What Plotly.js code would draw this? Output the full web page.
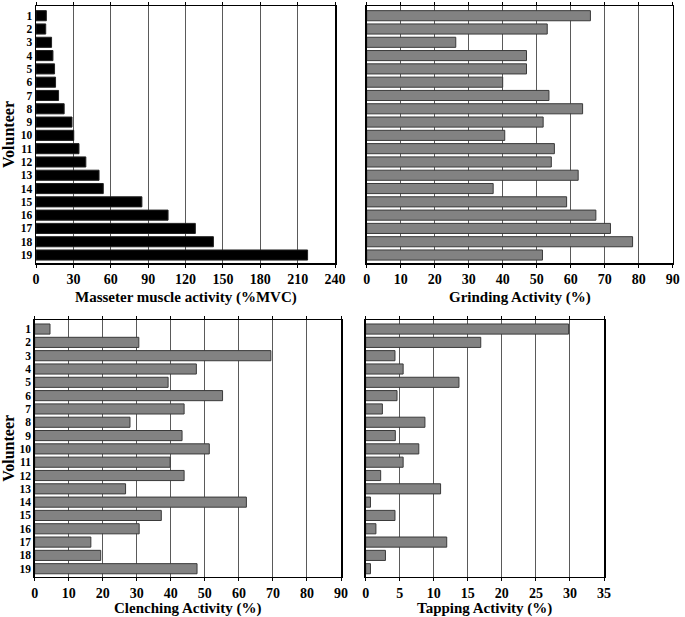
<!DOCTYPE html>
<html>
<head>
<meta charset="utf-8">
<script src="https://cdn.plot.ly/plotly-3.0.1.min.js"></script>
<style>html,body{margin:0;padding:0;background:#fff;}#chart{width:685px;height:617px;}</style>
</head>
<body>
<div id="chart"></div>
<script>
const volunteers = [1,2,3,4,5,6,7,8,9,10,11,12,13,14,15,16,17,18,19];
const volunteerLabels = volunteers.map(String);
const masseter = [8.3,7.8,12.5,13.6,14.9,15.7,18.1,22.6,28.9,30.3,34.5,40,50.6,54,85,106,127.9,142.4,218];
const grinding = [65.8,53.1,26.2,47,47,40,53.6,63.5,51.9,40.6,55.2,54.3,62.2,37.2,58.8,67.4,71.7,78.2,51.7];
const clenching = [4.5,30.6,69.4,47.5,39.2,55.2,43.9,28,43.3,51.3,39.8,43.9,26.7,62.2,37.2,30.7,16.5,19.4,47.7];
const tapping = [29.8,16.9,4.3,5.5,13.7,4.6,2.45,8.7,4.35,7.8,5.5,2.2,11,0.7,4.3,1.5,11.9,2.9,0.7];
const xTitles = ['Masseter muscle activity (%MVC)', 'Grinding Activity (%)', 'Clenching Activity (%)', 'Tapping Activity (%)'];

const W = 685, H = 617;
const FONT = "Liberation Serif, Times New Roman, serif";
const tickFont = {family: FONT, size: 14, color: '#000', weight: 'bold'};
const titleFont = {family: FONT, size: 15, color: '#000', weight: 'bold'};

function bar(x, xa, ya, color, line) {
  return {type: 'bar', orientation: 'h', x: x, y: volunteers, xaxis: xa, yaxis: ya,
    width: 0.76, marker: {color: color, line: line}, hoverinfo: 'x+y', showlegend: false};
}
const grayLine = {color: '#3a3a3a', width: 1};
const data = [
  bar(masseter, 'x', 'y', '#000', {color: '#222', width: 1}),
  bar(grinding, 'x2', 'y2', '#828282', grayLine),
  bar(clenching, 'x3', 'y3', '#828282', grayLine),
  bar(tapping, 'x4', 'y4', '#828282', grayLine)
];

function xa(dom, range, dtick) {
  return {domain: [dom[0]/W, dom[1]/W], range: range, dtick: dtick, tick0: 0,
    showgrid: true, gridcolor: '#5a5a5a', gridwidth: 1, zeroline: false,
    showline: true, linecolor: '#000', linewidth: 1.5, mirror: 'ticks',
    ticks: 'outside', ticklen: 3, tickcolor: '#000', tickwidth: 1,
    tickfont: tickFont, fixedrange: true};
}
function ya(dom, range, showLabels, title) {
  return {domain: [1 - dom[1]/H, 1 - dom[0]/H], range: range,
    tickvals: volunteers, ticktext: volunteerLabels, showticklabels: showLabels,
    showgrid: false, zeroline: false, showline: true, linecolor: '#000', linewidth: 1.5, mirror: true,
    ticks: '', tickfont: {family: FONT, size: 11.5, color: '#000', weight: 'bold'}, fixedrange: true,
    title: {text: title, font: {family: FONT, size: 16, color: '#000', weight: 'bold'}, standoff: 2}};
}

const P = [
  {x: [36, 335], y: [6, 263], ty: 297},
  {x: [366.7, 672.7], y: [6, 263], ty: 297},
  {x: [34.7, 341], y: [320, 576.7], ty: 608.5},
  {x: [365.7, 604], y: [320, 576.7], ty: 608.5}
];

const annotations = P.map((p, i) => ({
  xref: 'paper', yref: 'paper', x: (p.x[0] + p.x[1]) / 2 / W, y: 1 - p.ty / H,
  xanchor: 'center', yanchor: 'middle', showarrow: false, text: xTitles[i], font: titleFont
}));

const layout = {
  width: W, height: H, margin: {l: 0, r: 0, t: 0, b: 0},
  paper_bgcolor: '#fff', plot_bgcolor: '#fff',
  xaxis: Object.assign(xa(P[0].x, [0, 240], 30), {anchor: 'y'}),
  yaxis: Object.assign(ya(P[0].y, [19.6, 0.27], true, 'Volunteer'), {anchor: 'x'}),
  xaxis2: Object.assign(xa(P[1].x, [0, 90], 10), {anchor: 'y2'}),
  yaxis2: Object.assign(ya(P[1].y, [19.6, 0.27], false, ''), {anchor: 'x2'}),
  xaxis3: Object.assign(xa(P[2].x, [0, 90], 10), {anchor: 'y3'}),
  yaxis3: Object.assign(ya(P[2].y, [19.6, 0.32], true, 'Volunteer'), {anchor: 'x3'}),
  xaxis4: Object.assign(xa(P[3].x, [0, 35], 5), {anchor: 'y4'}),
  yaxis4: Object.assign(ya(P[3].y, [19.6, 0.32], false, ''), {anchor: 'x4'}),
  annotations: annotations
};

Plotly.newPlot('chart', data, layout, {displayModeBar: false, staticPlot: true});
</script>
</body>
</html>
